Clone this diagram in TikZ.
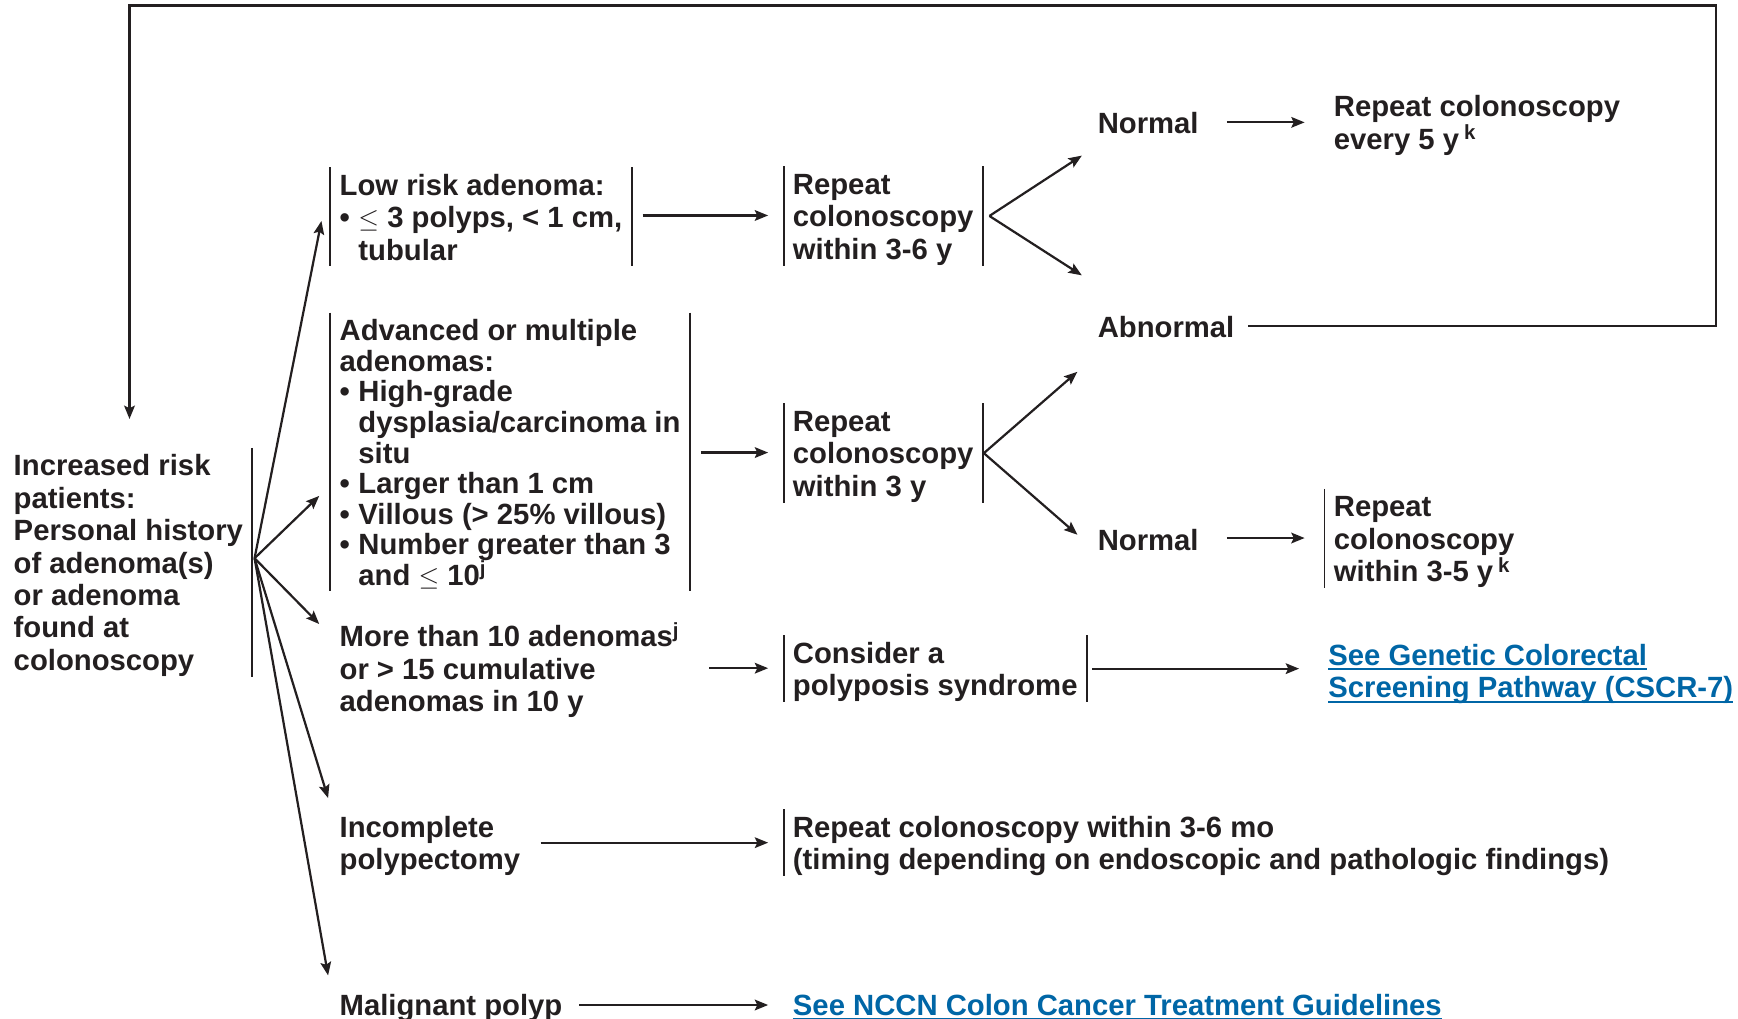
\documentclass[tikz,border=0pt]{standalone}
\usepackage{fontspec}
\setmainfont{Liberation Sans}
\usetikzlibrary{arrows.meta,calc}

\definecolor{ink}{HTML}{231F20}
\definecolor{linkblue}{HTML}{0066A6}

% bullet with hanging indent for list items inside the boxes
\newcommand\bul{\makebox[8.5pt][l]{\textbullet}}
\newcommand\hng{\hspace*{8.5pt}}
% line struts: fixed height above the first baseline, fixed depth below the last
\newcommand\T{\rule{0pt}{12.5pt}}
\newcommand\botstrut{\rule[-2.5pt]{0pt}{2.5pt}}
% link underline sitting close to the baseline
\newcommand\lnk[1]{\setbox0\hbox{#1}\rlap{\rule[-2.1pt]{\wd0}{0.9pt}}\box0}
\newcommand\fnt{\lineskiplimit=-20pt\fontsize{13.2}{14.6}\selectfont\bfseries}
\newcommand\fntt{\lineskiplimit=-20pt\fontsize{13.2}{13.8}\selectfont\bfseries}

\tikzset{
  lbl/.style={anchor=north west, inner xsep=4pt, inner ysep=0pt, align=left,
    text=ink, font=\fnt, execute at end node=\botstrut},
  linktext/.style={lbl, text=linkblue},
  vbar/.style={draw=ink, line width=0.8pt, -},
  twobar/.style={append after command={
    (\tikzlastnode.north west) edge[vbar] (\tikzlastnode.south west)
    (\tikzlastnode.north east) edge[vbar] (\tikzlastnode.south east)}},
  lbar/.style={append after command={
    (\tikzlastnode.north west) edge[vbar] (\tikzlastnode.south west)}},
  rbar/.style={append after command={
    (\tikzlastnode.north east) edge[vbar] (\tikzlastnode.south east)}},
  arr/.style={draw=ink, line width=1pt, -{Stealth[length=6pt,width=4.8pt,inset=1.1pt]}},
}

\begin{document}
\lineskiplimit=-20pt
\begin{tikzpicture}[x=0.5pt, y=-0.5pt]
\useasboundingbox (0,0) rectangle (1568,919);

% entry node
\node[lbl, rbar] (inc) at (4,404)
  {\T Increased risk\\patients:\\Personal history\\of adenoma(s)\\or adenoma\\found at\\colonoscopy};
\coordinate (fan) at ($(inc.east)+(2,-3.6)$);

% first-level findings
\node[lbl, twobar] (low) at (298,151)
  {\T Low risk adenoma:\\\bul$\leq$ 3 polyps, < 1 cm,\\\hng tubular};
\node[lbl, twobar, font=\fntt] (adv) at (298,282)
  {\T Advanced or multiple\\adenomas:\\\bul High-grade\\\hng dysplasia/carcinoma in\\\hng situ\\\bul Larger than 1 cm\\\bul Villous (> 25\% villous)\\\bul Number greater than 3\\\hng and $\leq$ 10\textsuperscript{j}};
\node[lbl] (more) at (298,558)
  {\T More than 10 adenomas\textsuperscript{j}\\or > 15 cumulative\\adenomas in 10 y};
\node[lbl] (incp) at (298,730) {\T Incomplete\\polypectomy};
\node[lbl] (mal) at (298,891) {\T Malignant polyp};

% follow-up actions
\node[lbl, twobar] (rep36) at (707,150) {\T Repeat\\colonoscopy\\within 3-6 y};
\node[lbl, twobar] (rep3) at (707,364) {\T Repeat\\colonoscopy\\within 3 y};
\node[lbl, twobar] (poly) at (707,573) {\T Consider a\\polyposis syndrome};
\node[lbl, lbar] (rep36mo) at (707,730)
  {\T Repeat colonoscopy within 3-6 mo\\(timing depending on endoscopic and pathologic findings)};
\node[linktext] (nccn) at (707,891) {\T\lnk{See NCCN Colon Cancer Treatment Guidelines}};

% outcomes
\node[lbl] (norm1) at (982,95) {\T Normal};
\node[lbl] (abn) at (982,279) {\T Abnormal};
\node[lbl] (norm2) at (982,471) {\T Normal};
\node[lbl] (every5) at (1195,80) {\T Repeat colonoscopy\\every 5 y\,\textsuperscript{k}};
\node[lbl, lbar] (rep35) at (1195,441) {\T Repeat\\colonoscopy\\within 3-5 y\,\textsuperscript{k}};
\node[linktext] (gen) at (1190,575)
  {\T\lnk{See Genetic Colorectal}\\\lnk{Screening Pathway (CSCR-7)}};

% fan from the entry node
\draw[arr] (fan) -- ($(low.west)+(-8,3.8)$);
\draw[arr] (fan) -- ($(adv.west)+(-10,39.6)$);
\draw[arr] (fan) -- ($(more.north west)+(-10,5)$);
\draw[arr] (fan) -- ($(incp.north west)+(-2,-10)$);
\draw[arr] (fan) -- ($(mal.north west)+(-2,-11)$);

% horizontal steps
\draw[arr] ($(low.east)+(10,-1.2)$) coordinate (s1) -- ($(rep36.west |- s1)+(-14,0)$);
\draw[arr] ($(adv.east)+(10,0.5)$) coordinate (s2) -- ($(rep3.west |- s2)+(-14,0)$);
\draw[arr] ($(more.east)+(18,0)$) coordinate (s3) -- ($(poly.west |- s3)+(-14,0)$);
\draw[arr] ($(poly.east)+(5,0)$) coordinate (s4) -- ($(gen.west |- s4)+(-18,0)$);
\draw[arr] ($(incp.east)+(10,0)$) coordinate (s5) -- ($(rep36mo.west |- s5)+(-14,0)$);
\draw[arr] ($(mal.east)+(7,0)$) coordinate (s6) -- ($(nccn.west |- s6)+(-14,0)$);
\draw[arr] ($(norm1.east)+(17,0)$) coordinate (s7) -- ($(every5.west |- s7)+(-18,0)$);
\draw[arr] ($(norm2.east)+(17,-1)$) coordinate (s8) -- ($(rep35.west |- s8)+(-18,0)$);

% branches to results
\draw[arr] ($(rep36.east)+(6,0)$) -- ($(norm1.west)+(-6,30)$);
\draw[arr] ($(rep36.east)+(6,0)$) -- ($(abn.west)+(-6,-46)$);
\draw[arr] ($(rep3.east)+(1,0)$) -- ($(abn.west)+(-10,41)$);
\draw[arr] ($(rep3.east)+(1,0)$) -- ($(norm2.west)+(-10,-4)$);

% abnormal result loops back to the entry node
\draw[arr] ($(abn.east)+(4,0)$) -| (1548,5) -| ($(inc.north)+(1,-26)$);
\end{tikzpicture}
\end{document}
